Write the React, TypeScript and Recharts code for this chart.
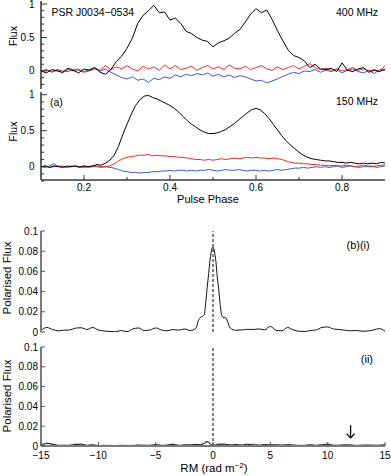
import React from 'react';
import { LineChart, Line, XAxis, YAxis, ReferenceLine } from 'recharts';

const FONT = "'Liberation Sans', Arial, Helvetica, sans-serif";

// ---------- (a) 400 MHz profile ----------
const phase400 = [0.1, 0.1125, 0.125, 0.1375, 0.15, 0.1625, 0.175, 0.1875, 0.2, 0.2125, 0.225, 0.2375, 0.25, 0.2625, 0.275, 0.2875, 0.3, 0.3125, 0.325, 0.3375, 0.35, 0.3625, 0.375, 0.3875, 0.4, 0.4125, 0.425, 0.4375, 0.45, 0.4625, 0.475, 0.4875, 0.5, 0.5125, 0.525, 0.5375, 0.55, 0.5625, 0.575, 0.5875, 0.6, 0.6125, 0.625, 0.6375, 0.65, 0.6625, 0.675, 0.6875, 0.7, 0.7125, 0.725, 0.7375, 0.75, 0.7625, 0.775, 0.7875, 0.8, 0.8125, 0.825, 0.8375, 0.85, 0.8625, 0.875, 0.8875, 0.9];
const total400 = [0.00, -0.03, 0.02, 0.00, -0.02, 0.04, 0.01, -0.03, 0.03, 0.01, 0.05, -0.02, -0.05, 0.02, 0.14, 0.22, 0.34, 0.49, 0.71, 0.83, 0.90, 0.98, 0.87, 0.88, 0.76, 0.79, 0.71, 0.59, 0.56, 0.50, 0.46, 0.44, 0.36, 0.42, 0.45, 0.49, 0.56, 0.62, 0.73, 0.85, 0.93, 0.87, 0.91, 0.77, 0.60, 0.45, 0.31, 0.23, 0.20, 0.15, 0.05, 0.10, 0.03, 0.02, 0.04, -0.01, 0.12, 0.01, -0.01, 0.03, 0.05, -0.02, 0.01, -0.01, 0.03];
const linear400 = [0.00, 0.01, -0.01, 0.02, 0.00, -0.01, 0.02, 0.01, -0.02, 0.00, 0.03, 0.01, 0.08, 0.02, 0.06, 0.03, 0.08, 0.03, 0.00, 0.07, 0.03, 0.06, 0.01, 0.09, 0.03, 0.08, 0.02, 0.04, 0.07, 0.01, 0.05, 0.08, 0.03, 0.06, 0.02, 0.09, 0.04, 0.03, 0.07, 0.02, 0.05, 0.08, 0.03, 0.01, 0.06, 0.02, 0.05, 0.08, 0.03, 0.07, 0.11, 0.05, 0.02, 0.04, 0.01, 0.03, 0.00, 0.02, 0.05, 0.01, 0.03, 0.00, 0.02, -0.01, 0.08];
const circ400 = [0.00, 0.02, -0.02, 0.01, -0.03, 0.02, 0.00, 0.03, -0.01, 0.02, 0.05, 0.00, 0.03, -0.02, -0.06, -0.10, -0.12, -0.09, -0.14, -0.12, -0.17, -0.11, -0.13, -0.09, -0.11, -0.06, -0.09, -0.05, -0.07, -0.04, -0.06, -0.03, -0.08, -0.05, -0.09, -0.06, -0.10, -0.07, -0.09, -0.12, -0.15, -0.14, -0.18, -0.15, -0.12, -0.08, -0.05, -0.02, -0.04, 0.00, -0.01, 0.02, -0.02, 0.01, -0.01, 0.02, -0.03, 0.01, 0.03, -0.01, -0.03, 0.01, -0.04, 0.02, 0.01];

// ---------- (a) 150 MHz profile ----------
const phase150 = [0.10, 0.11, 0.12, 0.13, 0.14, 0.15, 0.16, 0.17, 0.18, 0.19, 0.20, 0.21, 0.22, 0.23, 0.24, 0.25, 0.26, 0.27, 0.28, 0.29, 0.30, 0.31, 0.32, 0.33, 0.34, 0.35, 0.36, 0.37, 0.38, 0.39, 0.40, 0.41, 0.42, 0.43, 0.44, 0.45, 0.46, 0.47, 0.48, 0.49, 0.50, 0.51, 0.52, 0.53, 0.54, 0.55, 0.56, 0.57, 0.58, 0.59, 0.60, 0.61, 0.62, 0.63, 0.64, 0.65, 0.66, 0.67, 0.68, 0.69, 0.70, 0.71, 0.72, 0.73, 0.74, 0.75, 0.76, 0.77, 0.78, 0.79, 0.80, 0.81, 0.82, 0.83, 0.84, 0.85, 0.86, 0.87, 0.88, 0.89, 0.90];
const total150 = [0.00, 0.01, -0.01, 0.01, 0.00, -0.01, 0.01, 0.00, 0.01, -0.01, 0.01, 0.00, 0.01, 0.03, 0.02, 0.05, 0.09, 0.16, 0.28, 0.44, 0.59, 0.73, 0.85, 0.93, 0.98, 0.99, 0.96, 0.94, 0.91, 0.88, 0.85, 0.81, 0.76, 0.70, 0.64, 0.59, 0.55, 0.51, 0.48, 0.46, 0.46, 0.47, 0.49, 0.52, 0.56, 0.60, 0.65, 0.70, 0.75, 0.79, 0.81, 0.79, 0.74, 0.67, 0.59, 0.51, 0.43, 0.36, 0.30, 0.25, 0.20, 0.16, 0.13, 0.11, 0.10, 0.09, 0.08, 0.08, 0.07, 0.06, 0.06, 0.05, 0.06, 0.05, 0.04, 0.05, 0.04, 0.05, 0.04, 0.06, 0.05];
const linear150 = [0.00, 0.01, -0.01, 0.00, 0.01, 0.00, -0.01, 0.01, 0.00, 0.00, 0.01, -0.01, 0.00, 0.01, 0.00, 0.00, 0.01, 0.04, 0.08, 0.11, 0.13, 0.14, 0.15, 0.16, 0.16, 0.17, 0.15, 0.16, 0.15, 0.15, 0.14, 0.14, 0.13, 0.13, 0.12, 0.11, 0.10, 0.10, 0.09, 0.10, 0.09, 0.10, 0.11, 0.10, 0.11, 0.12, 0.11, 0.12, 0.13, 0.12, 0.13, 0.12, 0.12, 0.11, 0.12, 0.11, 0.10, 0.08, 0.06, 0.05, 0.05, 0.04, 0.04, 0.03, 0.03, 0.02, 0.02, 0.01, 0.02, 0.01, 0.01, 0.02, 0.01, 0.00, 0.01, 0.02, 0.01, 0.00, 0.01, 0.02, 0.02];
const circ150 = [0.00, -0.01, 0.01, 0.04, 0.00, 0.01, -0.01, 0.00, 0.01, 0.00, -0.01, 0.00, 0.01, 0.00, -0.01, 0.00, -0.01, -0.02, -0.04, -0.06, -0.07, -0.08, -0.08, -0.09, -0.08, -0.08, -0.07, -0.07, -0.06, -0.06, -0.05, -0.06, -0.05, -0.05, -0.06, -0.05, -0.06, -0.05, -0.05, -0.04, -0.05, -0.06, -0.05, -0.04, -0.05, -0.05, -0.04, -0.05, -0.06, -0.05, -0.05, -0.06, -0.05, -0.06, -0.05, -0.04, -0.05, -0.04, -0.03, -0.02, -0.02, -0.01, -0.02, -0.01, 0.00, -0.01, 0.00, -0.01, 0.00, 0.01, -0.01, 0.00, 0.01, 0.00, -0.01, 0.00, 0.00, 0.01, -0.01, 0.00, 0.01];

// ---------- (b)(i) RM spectrum ----------
const rmI = [-15, -14.5, -14, -13.5, -13, -12.5, -12, -11.5, -11, -10.5, -10, -9.5, -9, -8.5, -8, -7.5, -7, -6.5, -6, -5.5, -5, -4.5, -4, -3.5, -3, -2.5, -2, -1.5, -1.25, -1.125, -1, -0.875, -0.75, -0.625, -0.5, -0.375, -0.25, -0.125, 0, 0.125, 0.25, 0.375, 0.5, 0.625, 0.75, 0.875, 1, 1.125, 1.25, 1.5, 2, 2.5, 3, 3.5, 4, 4.5, 5, 5.5, 6, 6.5, 7, 7.5, 8, 8.5, 9, 9.5, 10, 10.5, 11, 11.5, 12, 12.5, 13, 13.5, 14, 14.5, 15];
const polI = [0.0015, 0.0045, 0.0025, 0.0012, 0.0018, 0.0020, 0.0038, 0.0042, 0.0025, 0.0045, 0.0020, 0.0010, 0.0005, 0.0003, 0.0015, 0.0002, 0.0030, 0.0040, 0.0015, 0.0020, 0.0040, 0.0020, 0.0012, 0.0025, 0.0018, 0.0030, 0.0015, 0.0035, 0.012, 0.014, 0.015, 0.0157, 0.018, 0.030, 0.045, 0.058, 0.072, 0.081, 0.084, 0.080, 0.070, 0.054, 0.042, 0.027, 0.017, 0.0145, 0.0142, 0.014, 0.011, 0.004, 0.0017, 0.0020, 0.0026, 0.0025, 0.0030, 0.0022, 0.0055, 0.0017, 0.0012, 0.0045, 0.0020, 0.0008, 0.0005, 0.0015, 0.0020, 0.0045, 0.0050, 0.0030, 0.0025, 0.0018, 0.0012, 0.0015, 0.0008, 0.0010, 0.0020, 0.0034, 0.0008];

// ---------- (b)(ii) RM spectrum ----------
const rmII = [-15, -14.5, -14, -13.5, -13, -12.5, -12, -11.5, -11, -10.5, -10, -9.5, -9, -8.5, -8, -7.5, -7, -6.5, -6, -5.5, -5, -4.5, -4, -3.5, -3, -2.5, -2, -1.5, -1, -0.5, 0, 0.5, 1, 1.5, 2, 2.5, 3, 3.5, 4, 4.5, 5, 5.5, 6, 6.5, 7, 7.5, 8, 8.5, 9, 9.5, 10, 10.5, 11, 11.5, 12, 12.5, 13, 13.5, 14, 14.5, 15];
const polIIblack = [0.0005, 0.0025, 0.0020, 0.0005, 0.0008, 0.0005, 0.0015, 0.0020, 0.0005, 0.0010, 0.0003, 0.0008, 0.0002, 0.0005, 0.0003, 0.0006, 0.0004, 0.0010, 0.0003, 0.0008, 0.0012, 0.0005, 0.0010, 0.0015, 0.0004, 0.0012, 0.0008, 0.0016, 0.0012, 0.0045, 0.0003, 0.0015, 0.0020, 0.0008, 0.0015, 0.0006, 0.0018, 0.0010, 0.0006, 0.0016, 0.0008, 0.0012, 0.0005, 0.0014, 0.0008, 0.0004, 0.0007, 0.0012, 0.0005, 0.0010, 0.0020, 0.0008, 0.0006, 0.0012, 0.0008, 0.0004, 0.0006, 0.0010, 0.0005, 0.0008, 0.0012];
const polIIgrey = [0.0010, 0.0030, 0.0015, 0.0008, 0.0005, 0.0010, 0.0020, 0.0010, 0.0008, 0.0015, 0.0005, 0.0003, 0.0008, 0.0004, 0.0010, 0.0005, 0.0008, 0.0006, 0.0012, 0.0005, 0.0015, 0.0010, 0.0004, 0.0020, 0.0010, 0.0006, 0.0014, 0.0010, 0.0020, 0.0035, 0.0010, 0.0022, 0.0010, 0.0016, 0.0005, 0.0014, 0.0010, 0.0020, 0.0012, 0.0006, 0.0018, 0.0008, 0.0015, 0.0006, 0.0012, 0.0008, 0.0005, 0.0010, 0.0008, 0.0018, 0.0010, 0.0005, 0.0010, 0.0006, 0.0014, 0.0008, 0.0010, 0.0005, 0.0012, 0.0006, 0.0010];

// arrow annotation (RM, flux) : shaft top, tip, head half-width, head height
const arrowRM = 12;
const arrowTop = 0.021;
const arrowTip = 0.008;
const arrowHalf = 0.35;
const arrowHead = 0.0045;

// ticks
const phaseTicks = [0.2, 0.3, 0.4, 0.5, 0.6, 0.7, 0.8];
const phaseMajor = [0.2, 0.4, 0.6, 0.8];
const fluxTicks = [-0.2, -0.1, 0, 0.1, 0.2, 0.3, 0.4, 0.5, 0.6, 0.7, 0.8, 0.9, 1];
const fluxMajor = [0, 0.5, 1];
const polTicks = [0, 0.02, 0.04, 0.06, 0.08, 0.1];
const rmTicks = [-15, -10, -5, 0, 5, 10, 15];

const profile400 = phase400.map((p, i) => ({ p, I: total400[i], L: linear400[i], V: circ400[i] }));
const profile150 = phase150.map((p, i) => ({ p, I: total150[i], L: linear150[i], V: circ150[i] }));
const specI = rmI.map((rm, i) => ({ rm, P: polI[i] }));
const specII = rmII.map((rm, i) => ({ rm, P: polIIblack[i], G: polIIgrey[i] }));

type Side = 'left' | 'right' | 'top' | 'bottom';
interface TickOpts {
  majors?: number[];
  majorLen: number;
  minorLen?: number;
  label?: (v: number) => string;
  gap?: number;
  fontSize?: number;
  color?: string;
}

function tickRenderer(side: Side, o: TickOpts) {
  return (props: any) => {
    const { x, y, payload } = props;
    const v: number = payload.value;
    const major = !o.majors || o.majors.some((m) => Math.abs(m - v) < 1e-9);
    const len = major ? o.majorLen : o.minorLen ?? 0;
    let x2 = x;
    let y2 = y;
    if (side === 'left') x2 = x + len;
    if (side === 'right') x2 = x - len;
    if (side === 'bottom') y2 = y - len;
    if (side === 'top') y2 = y + len;
    const lab = major && o.label ? o.label(v) : null;
    const gap = o.gap ?? 4;
    const fs = o.fontSize ?? 10;
    return (
      <g>
        <line x1={x} y1={y} x2={x2} y2={y2} stroke={o.color ?? '#333'} strokeWidth={1} />
        {lab !== null && side === 'left' && (
          <text x={x - gap} y={y} dy="0.35em" textAnchor="end" fontSize={fs} fontFamily={FONT} fill="#000">
            {lab}
          </text>
        )}
        {lab !== null && side === 'bottom' && (
          <text x={x} y={y + gap} dy="0.71em" textAnchor="middle" fontSize={fs} fontFamily={FONT} fill="#000">
            {lab}
          </text>
        )}
      </g>
    );
  };
}

const fmtFlux = (v: number) => (v === 0 ? '0' : String(v));
const fmtPhase = (v: number) => v.toFixed(1);
const fmtRM = (v: number) => (v < 0 ? '\u2212' + Math.abs(v) : String(v));
const fmtPol = (v: number) => (v === 0 ? '0' : String(v));

const AX_A = '#3a3a3a';
const AX_B = '#7a7a7a';
const RED = '#f02828';
const BLUE = '#3a5cc6';

interface PanelProps {
  data: any[];
  height: number;
  top: number;
  bottom: number;
  bottomH: number;
  showX: boolean;
}

function ProfilePanel({ data, domain, height, top, bottom, bottomH, showX }: PanelProps & { domain: [number, number] }) {
  return (
    <LineChart width={391} height={height} data={data} margin={{ top, right: 6, bottom, left: 0 }}>
      <XAxis
        xAxisId="b"
        dataKey="p"
        type="number"
        domain={[0.1, 0.9]}
        allowDataOverflow
        ticks={phaseTicks}
        interval={0}
        height={bottomH}
        tickSize={0}
        tickMargin={0}
        axisLine={{ stroke: AX_A, strokeWidth: 1.6 }}
        tickLine={false}
        tick={tickRenderer('bottom', { majors: phaseMajor, majorLen: 5, minorLen: 3, label: showX ? fmtPhase : undefined, gap: 4, fontSize: 10 })}
      />
      <XAxis
        xAxisId="t"
        orientation="top"
        dataKey="p"
        type="number"
        domain={[0.1, 0.9]}
        allowDataOverflow
        ticks={phaseTicks}
        interval={0}
        height={0}
        tickSize={0}
        tickMargin={0}
        axisLine={{ stroke: AX_A, strokeWidth: 1.6 }}
        tickLine={false}
        tick={tickRenderer('top', { majors: phaseMajor, majorLen: 5, minorLen: 3 })}
      />
      <YAxis
        yAxisId="l"
        type="number"
        domain={domain}
        allowDataOverflow
        ticks={fluxTicks}
        interval={0}
        width={41}
        tickSize={0}
        tickMargin={0}
        axisLine={{ stroke: AX_A, strokeWidth: 1.6 }}
        tickLine={false}
        tick={tickRenderer('left', { majors: fluxMajor, majorLen: 6, minorLen: 3, label: fmtFlux, gap: 6.5, fontSize: 10 })}
      />
      <YAxis
        yAxisId="r"
        orientation="right"
        type="number"
        domain={domain}
        allowDataOverflow
        ticks={fluxTicks}
        interval={0}
        width={0}
        tickSize={0}
        tickMargin={0}
        axisLine={{ stroke: AX_A, strokeWidth: 1.6 }}
        tickLine={false}
        tick={tickRenderer('right', { majors: fluxMajor, majorLen: 6, minorLen: 3 })}
      />
      <Line xAxisId="b" yAxisId="l" dataKey="V" stroke={BLUE} strokeWidth={1} dot={false} isAnimationActive={false} type="linear" />
      <Line xAxisId="b" yAxisId="l" dataKey="L" stroke={RED} strokeWidth={1} dot={false} isAnimationActive={false} type="linear" />
      <Line xAxisId="b" yAxisId="l" dataKey="I" stroke="#000" strokeWidth={1} dot={false} isAnimationActive={false} type="linear" />
    </LineChart>
  );
}

function RMPanel({ data, height, top, bottom, bottomH, showX, grey, arrow }: PanelProps & { grey: boolean; arrow: boolean }) {
  return (
    <LineChart width={391} height={height} data={data} margin={{ top, right: 6, bottom, left: 0 }}>
      <XAxis
        xAxisId="b"
        dataKey="rm"
        type="number"
        domain={[-15, 15]}
        allowDataOverflow
        ticks={rmTicks}
        interval={0}
        height={bottomH}
        tickSize={0}
        tickMargin={0}
        axisLine={{ stroke: AX_B, strokeWidth: 2 }}
        tickLine={false}
        tick={tickRenderer('bottom', { majorLen: 4, label: showX ? fmtRM : undefined, gap: 6, fontSize: 10, color: '#555' })}
      />
      <XAxis
        xAxisId="t"
        orientation="top"
        dataKey="rm"
        type="number"
        domain={[-15, 15]}
        allowDataOverflow
        ticks={rmTicks}
        interval={0}
        height={0}
        tickSize={0}
        tickMargin={0}
        axisLine={{ stroke: AX_B, strokeWidth: 2 }}
        tickLine={false}
        tick={tickRenderer('top', { majorLen: 4, color: '#555' })}
      />
      <YAxis
        yAxisId="l"
        type="number"
        domain={[0, 0.1]}
        allowDataOverflow
        ticks={polTicks}
        interval={0}
        width={41}
        tickSize={0}
        tickMargin={0}
        axisLine={{ stroke: AX_B, strokeWidth: 2 }}
        tickLine={false}
        tick={tickRenderer('left', { majorLen: 4, label: fmtPol, gap: 3, fontSize: 10, color: '#555' })}
      />
      <YAxis
        yAxisId="r"
        orientation="right"
        type="number"
        domain={[0, 0.1]}
        allowDataOverflow
        ticks={polTicks}
        interval={0}
        width={0}
        tickSize={0}
        tickMargin={0}
        axisLine={{ stroke: AX_B, strokeWidth: 2 }}
        tickLine={false}
        tick={tickRenderer('right', { majorLen: 4, color: '#555' })}
      />
      <ReferenceLine xAxisId="b" yAxisId="l" x={0} stroke="#000" strokeWidth={1} strokeDasharray="3 2" />
      {grey && <Line xAxisId="b" yAxisId="l" dataKey="G" stroke="#8a8a8a" strokeWidth={1} dot={false} isAnimationActive={false} type="monotone" />}
      <Line xAxisId="b" yAxisId="l" dataKey="P" stroke="#111" strokeWidth={1} dot={false} isAnimationActive={false} type="monotone" />
      {arrow && (
        <ReferenceLine xAxisId="b" yAxisId="l" segment={[{ x: arrowRM, y: arrowTop }, { x: arrowRM, y: arrowTip }]} stroke="#000" strokeWidth={1.3} />
      )}
      {arrow && (
        <ReferenceLine xAxisId="b" yAxisId="l" segment={[{ x: arrowRM - arrowHalf, y: arrowTip + arrowHead }, { x: arrowRM, y: arrowTip }]} stroke="#000" strokeWidth={1.3} />
      )}
      {arrow && (
        <ReferenceLine xAxisId="b" yAxisId="l" segment={[{ x: arrowRM + arrowHalf, y: arrowTip + arrowHead }, { x: arrowRM, y: arrowTip }]} stroke="#000" strokeWidth={1.3} />
      )}
    </LineChart>
  );
}

export default function App() {
  const abs = (top: number): React.CSSProperties => ({ position: 'absolute', left: 0, top });
  return (
    <div style={{ position: 'absolute', left: 0, top: 0, width: 391, height: 476, background: '#fff', overflow: 'hidden' }}>
      <div style={abs(0)}>
        <ProfilePanel data={profile400} domain={[-0.27, 1.045]} height={90} top={1} bottom={1} bottomH={0} showX={false} />
      </div>
      <div style={abs(84)}>
        <ProfilePanel data={profile150} domain={[-0.185, 1.0375]} height={116} top={8} bottom={0} bottomH={20} showX={true} />
      </div>
      <div style={abs(223)}>
        <RMPanel data={specI} height={117} top={8} bottom={8} bottomH={0} showX={false} grey={false} arrow={false} />
      </div>
      <div style={abs(339)}>
        <RMPanel data={specII} height={125} top={8} bottom={0} bottomH={18} showX={true} grey={true} arrow={true} />
      </div>
      <svg width={391} height={476} style={{ position: 'absolute', left: 0, top: 0, pointerEvents: 'none' }} fontFamily={FONT}>
        <text x={51.5} y={16} fontSize={10.5} fill="#000">PSR J0034{'\u2212'}0534</text>
        <text x={378} y={16} fontSize={10.5} textAnchor="end" fill="#000">400 MHz</text>
        <text x={50} y={106} fontSize={10.5} fill="#000">(a)</text>
        <text x={378} y={105} fontSize={10.5} textAnchor="end" fill="#000">150 MHz</text>
        <text transform="translate(16.5,36) rotate(-90)" fontSize={10.5} textAnchor="middle" fill="#000">Flux</text>
        <text transform="translate(16.5,131.5) rotate(-90)" fontSize={10.5} textAnchor="middle" fill="#000">Flux</text>
        <text x={208} y={203} fontSize={11} textAnchor="middle" fill="#000">Pulse Phase</text>
        <text transform="translate(11,278) rotate(-90)" fontSize={11.5} textAnchor="middle" fill="#000">Polarised Flux</text>
        <text transform="translate(11,396) rotate(-90)" fontSize={11.5} textAnchor="middle" fill="#000">Polarised Flux</text>
        <text x={346.5} y={248.5} fontSize={11} fill="#000">(b)(i)</text>
        <text x={373} y={362.5} fontSize={11} textAnchor="end" fill="#000">(ii)</text>
        <text x={214} y={471.5} fontSize={11.5} textAnchor="middle" fill="#000">
          RM (rad m<tspan dy={-4} fontSize={8}>{'\u2212'}2</tspan><tspan dy={4}>)</tspan>
        </text>
      </svg>
    </div>
  );
}
